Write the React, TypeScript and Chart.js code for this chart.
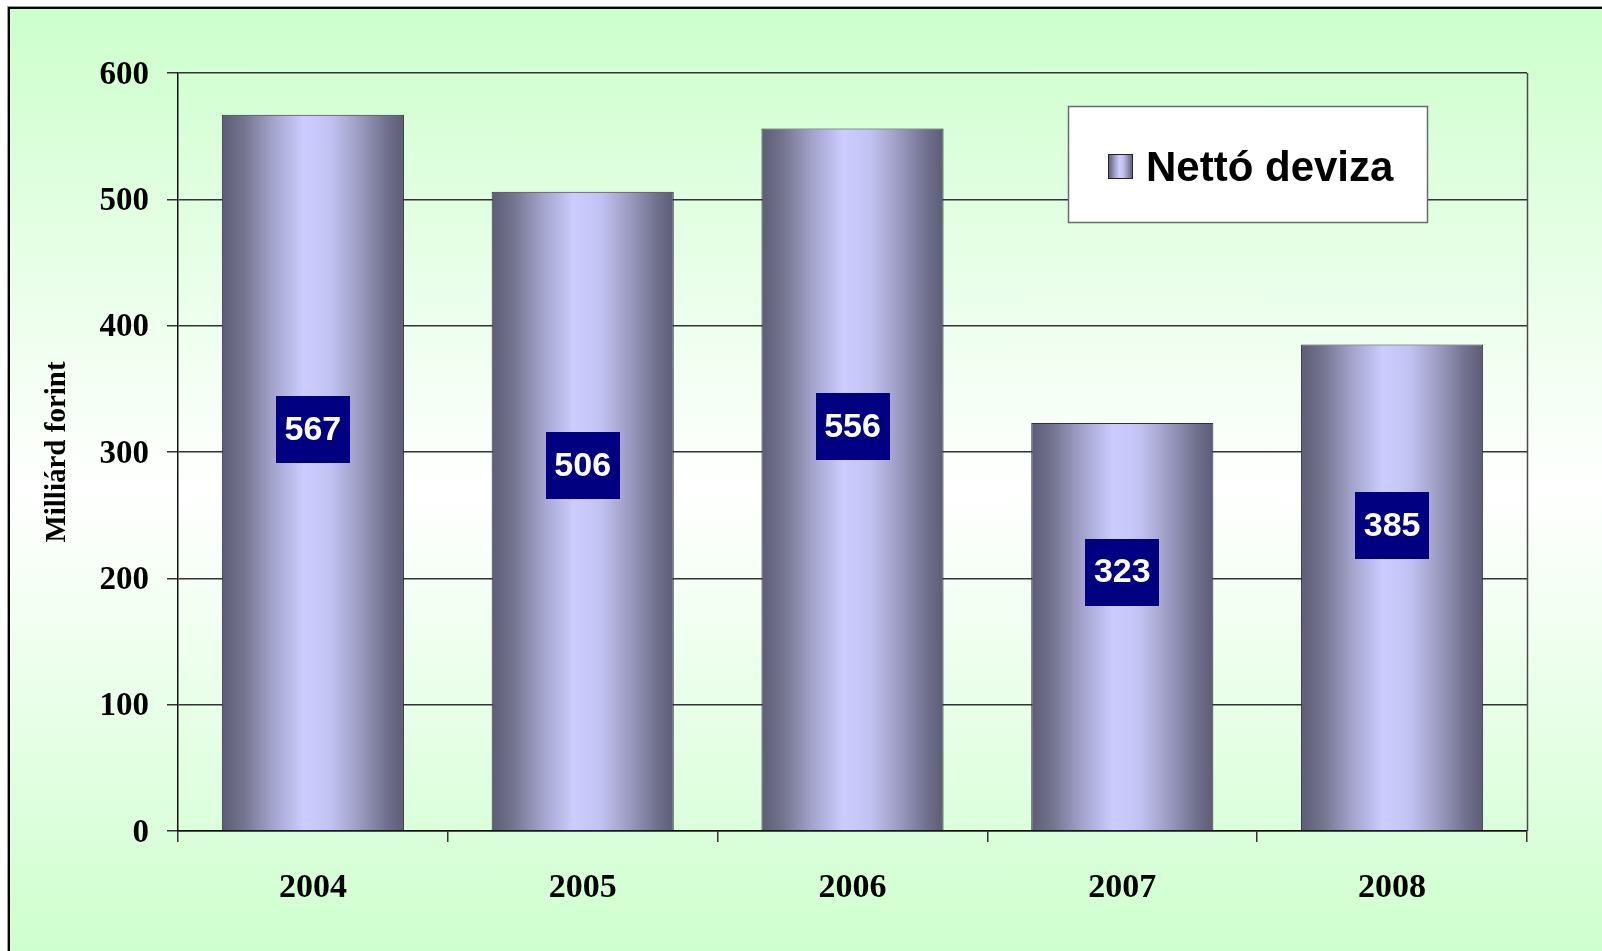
import React, { useEffect, useRef } from "react";
import { Chart, registerables } from "chart.js";

Chart.register(...registerables);

const categories = ["2004", "2005", "2006", "2007", "2008"];
const nettoDeviza = [567, 506, 556, 323, 385];
const labelAnchors = [318, 289, 320, 205, 242];
const yTicks = [0, 100, 200, 300, 400, 500, 600];
const seriesName = "Nettó deviza";
const axisTitle = "Milliárd forint";

const BAR_PCT = 0.675;

function barGradient(c: CanvasRenderingContext2D, x0: number, x1: number) {
  const g = c.createLinearGradient(x0, 0, x1, 0);
  g.addColorStop(0, "#5c5c76");
  g.addColorStop(0.12, "#74748f");
  g.addColorStop(0.28, "#a3a3cc");
  g.addColorStop(0.45, "#ccccff");
  g.addColorStop(0.6, "#c2c2f2");
  g.addColorStop(0.76, "#9a9ac0");
  g.addColorStop(0.9, "#727290");
  g.addColorStop(1, "#5c5c76");
  return g;
}

export default function App() {
  const ref = useRef<HTMLCanvasElement | null>(null);

  useEffect(() => {
    if (!ref.current) return;

    const shading = {
      id: "shading",
      beforeDatasetsDraw(chart: any) {
        const c = chart.ctx as CanvasRenderingContext2D;
        const meta = chart.getDatasetMeta(0);
        meta.data.forEach((el: any) => {
          const x = el.x, w = el.width;
          if (!isFinite(x) || !isFinite(w) || w <= 0) return;
          el.options = Object.assign({}, el.options, {
            backgroundColor: barGradient(c, x - w / 2, x + w / 2),
          });
        });
      },
    };

    const overlay = {
      id: "overlay",
      afterDatasetsDraw(chart: any) {
        const c = chart.ctx as CanvasRenderingContext2D;
        const area = chart.chartArea;
        const y = chart.scales.y;
        c.save();
        c.strokeStyle = "#4a4a4a";
        c.lineWidth = 1.5;
        c.beginPath();
        c.moveTo(Math.round(area.right) + 0.5, area.top);
        c.lineTo(Math.round(area.right) + 0.5, area.bottom);
        c.stroke();
        c.restore();

        const meta = chart.getDatasetMeta(0);
        meta.data.forEach((el: any, i: number) => {
          const cy = y.getPixelForValue(labelAnchors[i]);
          const w = 74, h = 67;
          c.save();
          c.fillStyle = "#000080";
          c.fillRect(Math.round(el.x - w / 2), Math.round(cy - h / 2), w, h);
          c.fillStyle = "#ffffff";
          c.font = "bold 34px 'Liberation Sans', Arial, sans-serif";
          c.textAlign = "center";
          c.textBaseline = "middle";
          c.fillText(String(nettoDeviza[i]), el.x, cy + 1);
          c.restore();
        });

        const lx = 1068, ly = 106, lw = 359, lh = 116;
        c.save();
        c.fillStyle = "#ffffff";
        c.fillRect(lx, ly, lw, lh);
        c.strokeStyle = "#6a6a6a";
        c.lineWidth = 1.5;
        c.strokeRect(lx + 0.5, ly + 0.5, lw, lh);
        const sx = 1108, sy = 154, ss = 25;
        c.fillStyle = barGradient(c, sx, sx + ss);
        c.fillRect(sx, sy, ss, ss);
        c.strokeStyle = "#222";
        c.lineWidth = 1;
        c.strokeRect(sx + 0.5, sy + 0.5, ss - 1, ss - 1);
        c.fillStyle = "#000";
        c.font = "bold 42px 'Liberation Sans', Arial, sans-serif";
        c.textAlign = "left";
        c.textBaseline = "alphabetic";
        c.fillText(chart.data.datasets[0].label, 1146, 181);
        c.restore();
      },
    };

    const chart = new Chart(ref.current, {
      type: "bar",
      data: {
        labels: categories,
        datasets: [
          {
            label: seriesName,
            data: nettoDeviza,
            backgroundColor: "#ccccff",
            borderColor: "#2e2e3e",
            borderWidth: 1,
            borderSkipped: "bottom",
            barPercentage: BAR_PCT,
            categoryPercentage: 1,
          },
        ],
      },
      options: {
        responsive: false,
        maintainAspectRatio: false,
        animation: false,
        devicePixelRatio: 1,
        layout: { padding: { left: 0, top: 73, right: 75, bottom: 0 } },
        plugins: {
          legend: { display: false },
          tooltip: { enabled: false },
        },
        scales: {
          x: {
            offset: true,
            grid: {
              offset: true,
              drawOnChartArea: false,
              drawTicks: true,
              tickLength: 11,
              color: "#333",
              lineWidth: 1.5,
            },
            border: { display: true, color: "#111", width: 1.5 },
            ticks: {
              color: "#000",
              padding: 26,
              font: { family: "'Liberation Serif', 'Times New Roman', serif", size: 34, weight: "bold" },
            },
            afterFit: (s: any) => {
              s.height = 951 - 831;
            },
          },
          y: {
            min: 0,
            max: 600,
            afterBuildTicks: (s: any) => {
              s.ticks = yTicks.map((v) => ({ value: v }));
            },
            grid: {
              color: "#333",
              lineWidth: 1.5,
              drawTicks: true,
              tickLength: 11,
            },
            border: { display: true, color: "#111", width: 1.5 },
            ticks: {
              color: "#000",
              padding: 18,
              labelOffset: 2,
              font: { family: "'Liberation Serif', 'Times New Roman', serif", size: 33, weight: "bold" },
            },
            title: {
              display: true,
              text: axisTitle,
              color: "#000",
              padding: { top: 40, bottom: 0 },
              font: { family: "'Liberation Serif', 'Times New Roman', serif", size: 29, weight: "bold" },
            },
            afterFit: (s: any) => {
              s.width = 178;
            },
          },
        },
      },
      plugins: [shading, overlay],
    });

    return () => chart.destroy();
  }, []);

  return (
    <div
      style={{
        position: "fixed",
        left: 0,
        top: 0,
        width: 1602,
        height: 951,
        overflow: "hidden",
        background: "#ffffff",
      }}
    >
      <div
        style={{
          position: "absolute",
          left: 8,
          top: 7,
          width: 1700,
          height: 962,
          border: "2px solid #000",
          boxShadow: "-1px -1px 0 #9a9a9a",
          background: "linear-gradient(to bottom, #ccffcc 0px, #ffffff 481px, #ccffcc 962px)",
        }}
      />
      <canvas
        ref={ref}
        width={1602}
        height={951}
        style={{ position: "absolute", left: 0, top: 0, width: 1602, height: 951 }}
      />
    </div>
  );
}
